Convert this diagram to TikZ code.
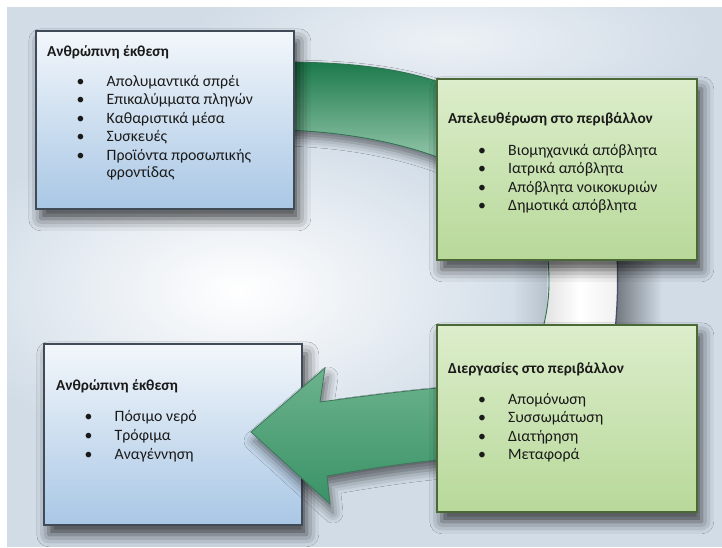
\documentclass[tikz,border=0pt]{standalone}
\usepackage{fontspec}
\setmainfont{Carlito}
\usetikzlibrary{shadows.blur}
\definecolor{bgc}{HTML}{D1DCE7}
\definecolor{blueTop}{HTML}{F3F7FB}
\definecolor{blueBot}{HTML}{A9C7E5}
\definecolor{blueLine}{HTML}{414B58}
\definecolor{greenTop}{HTML}{DCEDCB}
\definecolor{greenBot}{HTML}{B8D99A}
\definecolor{greenLine}{HTML}{4A6936}
\definecolor{bandTop}{HTML}{1C7A4C}
\definecolor{bandBot}{HTML}{93C6AA}
\definecolor{bandLine}{HTML}{2F7051}
\definecolor{arrTop}{HTML}{6CB38D}
\definecolor{arrBot}{HTML}{3A9266}
\definecolor{arrLine}{HTML}{3D775A}
\definecolor{txt}{HTML}{1A1A1A}
\tikzset{
  boxbase/.style={anchor=north west, inner sep=0pt, line width=1.5pt,
    blur shadow={shadow xshift=5pt, shadow yshift=-10pt, shadow blur radius=12pt, shadow opacity=70}},
  bluebox/.style={boxbase, draw=blueLine, top color=blueTop, bottom color=blueBot},
  greenbox/.style={boxbase, draw=greenLine, top color=greenTop, bottom color=greenBot},
  ttl/.style={anchor=base west, inner sep=0pt, text=txt, font=\fontsize{15.3}{18}\selectfont\bfseries},
  itm/.style={anchor=base west, inner sep=0pt, text=txt, font=\fontsize{15.8}{18}\selectfont},
}
\newcommand\bul{\makebox[30pt][l]{•}}
\begin{document}
\begin{tikzpicture}[x=1pt,y=-1pt]
\useasboundingbox (0,0) rectangle (722,547);
\fill[white] (0,0) rectangle (722,547);
% background
\begin{scope}
  \clip (7,7) rectangle (722,547);
  \fill[bgc] (7,7) rectangle (722,547);
  \shade[inner color=white, outer color=bgc] (240,290) ellipse [x radius=300, y radius=170];
  \shade[inner color=white!60!bgc, outer color=bgc] (450,40) ellipse [x radius=260, y radius=80];
\end{scope}
% top band of the cycle
\path[top color=bandTop, bottom color=bandBot, draw=bandLine, line width=0.8pt,
  blur shadow={shadow xshift=2pt, shadow yshift=-7pt, shadow blur radius=9pt, shadow opacity=50}]
  (280,62) .. controls (350,62) and (400,68) .. (445,84) -- (445,160)
  .. controls (400,142) and (340,131) .. (280,130) -- cycle;
% middle ring segment with its shadow
\shade[left color=bgc, right color=black!12!bgc] (515,250) rectangle (547,332);
\shade[left color=black!45!bgc, right color=bgc] (616,250) rectangle (662,332);
\shade[left color=black!12, right color=white!94!black, middle color=white]
  (547,250) .. controls (551,285) and (549,305) .. (542,332) -- (615,332)
  .. controls (618,300) and (618,280) .. (617,250) -- cycle;
\draw[bandLine, line width=0.9pt] (547,250) .. controls (551,285) and (549,305) .. (542,332);
\draw[black!70!blue!40!gray, line width=1.3pt] (617,250) .. controls (618,280) and (618,300) .. (615,332);
% boxes on the left and the top right
\node[bluebox, minimum width=258pt, minimum height=178pt] (b1) at (35,30) {};
\node[greenbox, minimum width=260pt, minimum height=181pt] (b2) at (436,78) {};
\node[bluebox, minimum width=258pt, minimum height=181pt] (b4) at (43,343) {};
% bottom arrow (over the lower blue box)
\path[top color=arrTop, bottom color=arrBot, draw=arrLine, line width=0.8pt,
  blur shadow={shadow xshift=3pt, shadow yshift=-9pt, shadow blur radius=10pt, shadow opacity=55}]
  (450,387) .. controls (400,391) and (350,398) .. (320,402) -- (325,368) -- (251,432)
  -- (330,504) -- (327,476) .. controls (360,470) and (410,462) .. (450,459) -- cycle;
\node[greenbox, minimum width=260pt, minimum height=187pt] (b3) at (436,324) {};
% box 1 text
\node[ttl] (t1) at (47,56) {Ανθρώπινη έκθεση};
\node[itm] (t1a) at (76.5,86) {\bul Απολυμαντικά σπρέι};
\node[itm] (t1b) at (76.5,104.5) {\bul Επικαλύμματα πληγών};
\node[itm] (t1c) at (76.5,123) {\bul Καθαριστικά μέσα};
\node[itm] (t1d) at (76.5,141.5) {\bul Συσκευές};
\node[itm] (t1e) at (76.5,160) {\bul Προϊόντα προσωπικής};
\node[itm] (t1f) at (76.5,177) {\makebox[30pt][l]{}φροντίδας};
% box 2 text
\node[ttl] (t2) at (448,123) {Απελευθέρωση στο περιβάλλον};
\node[itm] (t2a) at (478,155) {\bul Βιομηχανικά απόβλητα};
\node[itm] (t2b) at (478,173.5) {\bul Ιατρικά απόβλητα};
\node[itm] (t2c) at (478,192) {\bul Απόβλητα νοικοκυριών};
\node[itm] (t2d) at (478,210.5) {\bul Δημοτικά απόβλητα};
% box 3 text
\node[ttl] (t3) at (448,373) {Διεργασίες στο περιβάλλον};
\node[itm] (t3a) at (478,404) {\bul Απομόνωση};
\node[itm] (t3b) at (478,422.5) {\bul Συσσωμάτωση};
\node[itm] (t3c) at (478,441) {\bul Διατήρηση};
\node[itm] (t3d) at (478,459.5) {\bul Μεταφορά};
% box 4 text
\node[ttl] (t4) at (56,390) {Ανθρώπινη έκθεση};
\node[itm] (t4a) at (84.5,421) {\bul Πόσιμο νερό};
\node[itm] (t4b) at (84.5,440) {\bul Τρόφιμα};
\node[itm] (t4c) at (84.5,459) {\bul Αναγέννηση};
\end{tikzpicture}
\end{document}
